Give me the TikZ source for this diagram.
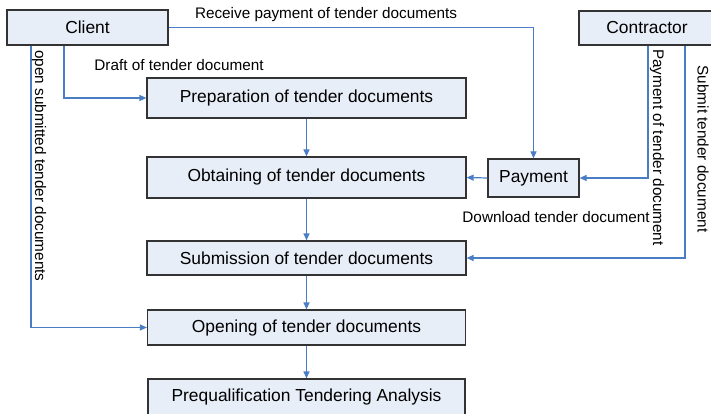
\documentclass[tikz,border=0pt]{standalone}
\usepackage{fontspec}
\setmainfont{Liberation Sans}
\usetikzlibrary{arrows.meta}
\definecolor{boxfill}{HTML}{E8EEF8}
\definecolor{linec}{HTML}{4A7EC4}
\definecolor{boxdraw}{HTML}{333333}
\tikzset{
  box/.style={draw=boxdraw, line width=1.2pt, fill=boxfill, inner sep=0pt, font=\fontsize{17.4}{20}\selectfont},
  lbl/.style={inner sep=0pt, font=\fontsize{15.3}{18}\selectfont},
  arr/.style={draw=linec, line width=1.2pt, -{Triangle[length=7pt,width=6pt]}},
  ln/.style={draw=linec, line width=1.2pt}
}
\begin{document}
\begin{tikzpicture}[x=1pt,y=-1pt]
\useasboundingbox (0,0) rectangle (711,414);
\clip (0,0) rectangle (711,414);
\node[box, minimum width=161pt, minimum height=35pt] (client) at (87.5,27.5) {Client};
\node[box, minimum width=136pt, minimum height=34pt] (contr) at (647,28) {Contractor};
\node[box, minimum width=319pt, minimum height=40pt] (prep) at (306.5,98) {Preparation of tender documents};
\node[box, minimum width=319pt, minimum height=41pt] (obt) at (306.5,177.5) {Obtaining of tender documents};
\node[box, minimum width=91pt, minimum height=38pt] (pay) at (533.5,178) {Payment};
\node[box, minimum width=319pt, minimum height=34pt] (sub) at (306.5,258) {Submission of tender documents};
\node[box, minimum width=318pt, minimum height=35pt] (open) at (306.5,327.5) {Opening of tender documents};
\node[box, minimum width=317pt, minimum height=36pt] (preq) at (306.5,397) {Prequalification Tendering Analysis};

\draw[arr] (prep.south) -- (obt.north);
\draw[arr] (obt.south) -- (sub.north);
\draw[arr] (sub.south) -- (open.north);
\draw[arr] (open.south) -- (preq.north);
\draw[arr] ([xshift=-23.5pt]client.south) |- (prep.west);
\draw[arr] ([xshift=-56.5pt]client.south) |- (open.west);
\draw[arr] (client.east) -| (pay.north);
\draw[arr] ([xshift=1pt]contr.south) |- (pay.east);
\draw[arr] ([xshift=38pt]contr.south) |- (sub.east);
\draw[arr] (pay.west) -- (obt.east);

\node[lbl] (l1) at (326,15) {Receive payment of tender documents};
\node[lbl] (l2) at (179,65) {Draft of tender document};
\node[lbl] (l3) at (556,217) {Download tender document};
\node[lbl, rotate=-90] (l4) at (39,166) {open submitted tender documents};
\node[lbl, rotate=-90] (l5) at (657,147.5) {Payment of tender document};
\node[lbl, rotate=-90] (l6) at (703,149) {Submit tender document};
\end{tikzpicture}
\end{document}
